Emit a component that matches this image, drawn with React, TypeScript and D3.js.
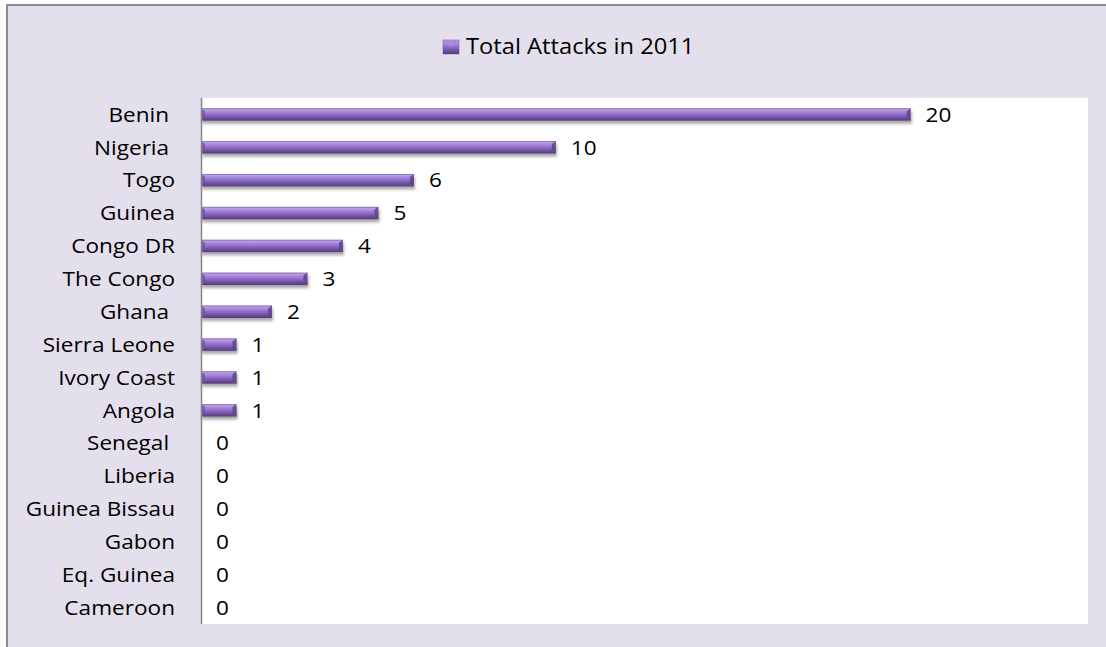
import React from "react";
import * as d3 from "d3";

const categories = [
  "Benin ", "Nigeria ", "Togo", "Guinea", "Congo DR", "The Congo", "Ghana ",
  "Sierra Leone", "Ivory Coast", "Angola", "Senegal ", "Liberia",
  "Guinea Bissau", "Gabon", "Eq. Guinea", "Cameroon",
];
const values = [20, 10, 6, 5, 4, 3, 2, 1, 1, 1, 0, 0, 0, 0, 0, 0];
const seriesName = "Total Attacks in 2011";

const W = 1106, H = 647;
const plot = { left: 201, right: 1088, top: 98, bottom: 624 };
const FONT = "'Open Sans', sans-serif";
const SX = 1.13;

function SText({ x, y, anchor = "start", size, children }: { x: number; y: number; anchor?: string; size: number; children: React.ReactNode }) {
  return (
    <g transform={`translate(${x},${y}) scale(${SX},1)`}>
      <text x={0} y={0} dy="0.36em" textAnchor={anchor as any} fontFamily={FONT} fontSize={size} fill="#000" style={{ whiteSpace: "pre" }}>{children}</text>
    </g>
  );
}

export default function App() {
  const x = d3.scaleLinear().domain([0, 25]).range([plot.left, plot.right]);
  const y = d3.scaleBand<string>().domain(categories).range([plot.top, plot.bottom]).paddingInner(0.62).paddingOuter(0.31);
  const bh = y.bandwidth();
  return (
    <svg width={W} height={H} style={{ position: "absolute", left: 0, top: 0, display: "block" }}>
      <defs>
        <linearGradient id="barG" x1="0" y1="0" x2="0" y2="1">
          <stop offset="0" stopColor="#7d5fae" />
          <stop offset="0.12" stopColor="#b89ee4" />
          <stop offset="0.3" stopColor="#a586d8" />
          <stop offset="0.55" stopColor="#8a68c0" />
          <stop offset="0.8" stopColor="#6a4c9a" />
          <stop offset="1" stopColor="#523a7a" />
        </linearGradient>
        <filter id="sh" x="-5%" y="-50%" width="110%" height="220%">
          <feGaussianBlur in="SourceAlpha" stdDeviation="1.5" />
          <feOffset dx="1" dy="2.5" result="b" />
          <feComponentTransfer><feFuncA type="linear" slope="0.35" /></feComponentTransfer>
          <feMerge><feMergeNode /><feMergeNode in="SourceGraphic" /></feMerge>
        </filter>
      </defs>
      <rect x={7} y={5} width={W + 10} height={H + 10} fill="#e4dfec" stroke="#8c8c8c" strokeWidth={2} />
      <rect x={plot.left} y={plot.top} width={plot.right - plot.left} height={plot.bottom - plot.top} fill="#ffffff" />
      {categories.map((c, i) => {
        const v = values[i];
        const y0 = y(c)!;
        const x0 = x(0), x1 = x(v);
        return (
          <g key={c}>
            {v > 0 && (
              <g filter="url(#sh)">
                <rect x={x0} y={y0} width={x1 - x0} height={bh} fill="url(#barG)" />
                <polygon points={`${x0},${y0} ${x0 + 4},${y0 + 3} ${x0 + 4},${y0 + bh - 3} ${x0},${y0 + bh}`} fill="#6e52a0" opacity={0.8} />
                <polygon points={`${x1},${y0} ${x1 - 4},${y0 + 3} ${x1 - 4},${y0 + bh - 3} ${x1},${y0 + bh}`} fill="#5e4490" opacity={0.85} />
              </g>
            )}
            <SText x={x1 + 15} y={y0 + bh / 2} size={20}>{String(v)}</SText>
            <SText x={175} y={y0 + bh / 2} anchor="end" size={20}>{c}</SText>
          </g>
        );
      })}
      <line x1={plot.left + 0.5} x2={plot.left + 0.5} y1={plot.top} y2={plot.bottom} stroke="#868686" strokeWidth={1.5} />
      <g>
        <rect x={443} y={40} width={16} height={14} fill="url(#barG)" stroke="#6a4c9a" strokeWidth={0.5} />
        <polygon points="443,40 459,40 451,47" fill="#a98bd8" />
        <SText x={466} y={46} size={21}>{seriesName}</SText>
      </g>
    </svg>
  );
}
